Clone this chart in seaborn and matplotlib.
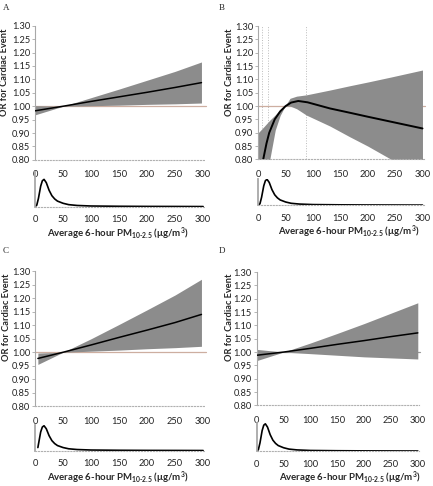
import matplotlib
matplotlib.use("Agg")
import matplotlib.pyplot as plt
import seaborn as sns

sns.set_theme(style="white")
plt.rcParams['font.family'] = ['Lato', 'DejaVu Sans']
plt.rcParams['mathtext.fontset'] = 'custom'
plt.rcParams['mathtext.rm'] = 'Lato:bold'
plt.rcParams['mathtext.it'] = 'Lato:bold'
plt.rcParams['mathtext.bf'] = 'Lato:bold'

# ---- data ----
# Panel A
a_x = [0, 50, 100, 150, 200, 250, 297]
a_or = [0.983, 1.0, 1.018, 1.035, 1.052, 1.070, 1.088]
a_lo = [0.968, 1.0, 1.002, 1.004, 1.007, 1.009, 1.012]
a_hi = [1.002, 1.0, 1.032, 1.064, 1.097, 1.130, 1.165]

# Panel B
b_x = [9, 15, 20, 30, 40, 50, 60, 73, 90, 131, 167, 200, 250, 300]
b_or = [0.80, 0.86, 0.90, 0.95, 0.98, 1.0, 1.013, 1.019, 1.014, 0.991, 0.975, 0.960, 0.938, 0.916]
b_band_x = [0, 10, 21, 31, 40, 49, 58, 70, 88, 131, 167, 200, 243, 300]
b_lo = [0.70, 0.75, 0.80, 0.91, 0.965, 1.0, 1.0, 0.99, 0.966, 0.925, 0.885, 0.85, 0.80, 0.74]
b_hi = [0.90, 0.922, 0.947, 0.967, 0.985, 1.0, 1.029, 1.037, 1.042, 1.06, 1.076, 1.09, 1.109, 1.135]
b_knots = [6, 18, 88]

# Panel C
c_x = [5, 50, 100, 150, 200, 250, 297]
c_or = [0.977, 1.0, 1.027, 1.055, 1.082, 1.110, 1.140]
c_lo = [0.955, 1.0, 1.004, 1.008, 1.013, 1.017, 1.022]
c_hi = [0.997, 1.0, 1.050, 1.103, 1.157, 1.212, 1.270]

# Panel D
d_x = [0, 50, 100, 150, 200, 250, 300]
d_or = [0.988, 1.0, 1.014, 1.029, 1.043, 1.058, 1.072]
d_lo = [0.968, 1.0, 0.994, 0.988, 0.982, 0.978, 0.974]
d_hi = [1.010, 1.0, 1.034, 1.070, 1.107, 1.146, 1.185]

# exposure distribution (relative density)
dens_x = [0, 3, 6, 10, 13, 16, 20, 25, 30, 35, 40, 50, 60, 75, 100, 150, 200, 250, 300]
dens_y = [0, 0.05, 0.3, 0.75, 0.95, 1.0, 0.88, 0.6, 0.4, 0.28, 0.2, 0.12, 0.07,
          0.04, 0.02, 0.01, 0.005, 0.003, 0.0]
c_dens_x = [5, 8, 10, 13, 16, 20, 25, 30, 35, 40, 50, 60, 75, 100, 150, 200, 250, 300]
c_dens_y = [0.12, 0.5, 0.75, 0.95, 1.0, 0.88, 0.6, 0.4, 0.28, 0.2, 0.12, 0.07,
            0.04, 0.02, 0.01, 0.005, 0.003, 0.0]

yticks = [0.80, 0.85, 0.90, 0.95, 1.00, 1.05, 1.10, 1.15, 1.20, 1.25, 1.30]
xticks = [0, 50, 100, 150, 200, 250, 300]

BAND = "#8c8c8c"
REF = "#cdaea0"
TICK_FS = 6.7

fig = plt.figure(figsize=(4.33, 4.86), dpi=100)


def style_upper(ax):
    ax.set_xlim(0, 303)
    ax.set_ylim(0.80, 1.30)
    ax.set_yticks(yticks)
    ax.set_yticklabels([f"{v:.2f}" for v in yticks])
    ax.set_xticks(xticks)
    for s in ["top", "right"]:
        ax.spines[s].set_visible(False)
    ax.spines["left"].set_color("#a8a8a8")
    ax.spines["left"].set_linewidth(0.8)
    ax.spines["bottom"].set_color("#b0b0b0")
    ax.spines["bottom"].set_linestyle(":")
    ax.spines["bottom"].set_linewidth(0.8)
    ax.tick_params(axis="y", left=True, length=2, width=0.6, color="#a8a8a8",
                   pad=1.5, labelsize=TICK_FS, colors="#222222")
    ax.tick_params(axis="x", bottom=False, pad=1.5, labelsize=TICK_FS, colors="#222222")
    ax.set_xlabel("")
    ax.set_ylabel("")


def style_lower(ax, top):
    ax.patch.set_alpha(0)
    ax.set_xlim(0, 303)
    ax.set_ylim(0, top)
    ax.set_yticks([])
    ax.set_xticks(xticks)
    for s in ["top", "right"]:
        ax.spines[s].set_visible(False)
    ax.spines["left"].set_color("#a8a8a8")
    ax.spines["left"].set_linewidth(1.3)
    ax.spines["bottom"].set_color("#b0b0b0")
    ax.spines["bottom"].set_linestyle(":")
    ax.spines["bottom"].set_linewidth(0.8)
    ax.tick_params(axis="x", bottom=False, pad=0.3, labelsize=TICK_FS, colors="#222222")
    ax.set_xlabel("")
    ax.set_ylabel("")


def panel(up_rect, low_rect, bx, lo, hi, lx, ly, dx, dy, dtop, ref_color=REF,
          knots=None, lw=1.1):
    ax = fig.add_axes(up_rect)
    if knots:
        for k in knots:
            ax.axvline(k, color="#bbbbbb", lw=0.7, ls=":", zorder=0)
    ax.plot([0, 305], [1.0, 1.0], color=ref_color, lw=0.9, zorder=1, clip_on=False)
    ax.fill_between(bx, lo, hi, color=BAND, lw=0, zorder=2)
    sns.lineplot(x=lx, y=ly, ax=ax, color="black", lw=lw, zorder=3, sort=False)
    style_upper(ax)
    axl = fig.add_axes(low_rect)
    sns.lineplot(x=dx, y=dy, ax=axl, color="black", lw=1.2, sort=False)
    style_lower(axl, dtop)
    return ax, axl


panel([0.081, 0.671, 0.392, 0.276], [0.081, 0.575, 0.392, 0.071],
      a_x, a_lo, a_hi, a_x, a_or, dens_x, dens_y, 1.27)
panel([0.5965, 0.672, 0.383, 0.2745], [0.5965, 0.578, 0.383, 0.054],
      b_band_x, b_lo, b_hi, b_x, b_or, dens_x, dens_y, 1.02, knots=b_knots, lw=1.4)
panel([0.081, 0.164, 0.392, 0.278], [0.081, 0.073, 0.392, 0.053],
      c_x, c_lo, c_hi, c_x, c_or, c_dens_x, c_dens_y, 1.04)
panel([0.593, 0.166, 0.3756, 0.274], [0.593, 0.072, 0.3756, 0.0576],
      d_x, d_lo, d_hi, d_x, d_or, dens_x, dens_y, 1.03, ref_color="#999999")

# panel letters
for lbl, (fx, fy) in zip("ABCD", [(0.006, 0.992), (0.506, 0.992), (0.006, 0.492), (0.506, 0.492)]):
    fig.text(fx, fy, lbl, fontsize=6.5, family="Liberation Serif", va="top", ha="left")

# axis titles
xlab = "Average 6-hour PM$_{\\text{10-2.5}}$ (\u03bcg/m$^{\\text{3}}$)"
for fx, fy in [(0.0115, 0.852), (0.529, 0.852), (0.0139, 0.348), (0.529, 0.348)]:
    fig.text(fx, fy, "OR for Cardiac Event", rotation=90, fontsize=6.7,
             fontweight="bold", ha="center", va="center")
for fx, fy in [(0.272, 0.519), (0.806, 0.523), (0.272, 0.017), (0.8075, 0.017)]:
    fig.text(fx, fy, xlab, fontsize=6.9, fontweight="bold", ha="center", va="center")

fig.savefig("out.png", dpi=100)
